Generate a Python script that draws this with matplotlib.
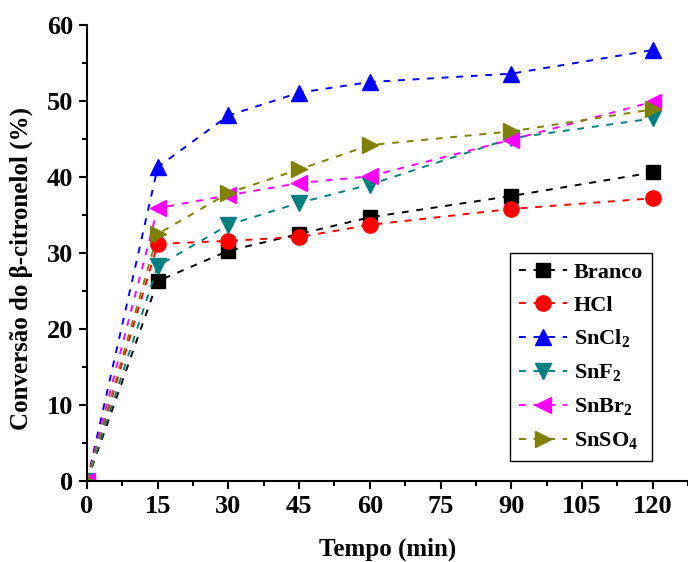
import matplotlib
matplotlib.use("Agg")
import matplotlib.pyplot as plt
from matplotlib.ticker import MultipleLocator

plt.rcParams['font.family'] = ['Liberation Serif', 'DejaVu Serif']
plt.rcParams['font.weight'] = 'bold'
plt.rcParams['mathtext.fontset'] = 'custom'
plt.rcParams['mathtext.rm'] = 'Liberation Serif:bold'
plt.rcParams['mathtext.bf'] = 'Liberation Serif:bold'

# tempo de reação (min)
tempo = [0, 15, 30, 45, 60, 90, 120]

# conversão (%) para cada catalisador
branco = [0, 26.3, 30.3, 32.5, 34.7, 37.5, 40.6]
hcl = [0, 31.2, 31.6, 32.1, 33.7, 35.8, 37.2]
sncl2 = [0, 41.3, 48.1, 51.1, 52.5, 53.6, 56.7]
snf2 = [0, 28.3, 33.7, 36.6, 39.0, 45.1, 47.7]
snbr2 = [0, 35.9, 37.6, 39.2, 40.1, 44.9, 49.9]
snso4 = [0, 32.5, 37.9, 41.0, 44.2, 46.0, 48.9]

series = [
    (branco, 'Branco', 'black', 's', 10),
    (hcl, 'HCl', 'red', 'o', 11),
    (sncl2, r'SnCl$_{\mathbf{2}}$', 'blue', '^', 12),
    (snf2, r'SnF$_{\mathbf{2}}$', '#008080', 'v', 12),
    (snbr2, r'SnBr$_{\mathbf{2}}$', 'magenta', '<', 12),
    (snso4, r'SnSO$_{\mathbf{4}}$', '#808000', '>', 12),
]

fig = plt.figure(figsize=(6.88, 5.62), dpi=100)
ax = fig.add_axes([0.1265, 0.1441, 0.8735, 0.8114])

for y, lab, c, m, ms in series:
    ax.plot(tempo, y, color=c, marker=m, markersize=ms, linestyle='--',
            dashes=(3.5, 4), linewidth=1.4, label=lab)

ax.set_xlim(0, 127.5)
ax.set_ylim(0, 60)
ax.xaxis.set_major_locator(MultipleLocator(15))
ax.xaxis.set_minor_locator(MultipleLocator(7.5))
ax.yaxis.set_major_locator(MultipleLocator(10))
ax.yaxis.set_minor_locator(MultipleLocator(5))

ax.spines['top'].set_visible(False)
ax.spines['right'].set_visible(False)
for s in ['left', 'bottom']:
    ax.spines[s].set_linewidth(1.5)

ax.tick_params(which='major', direction='out', length=6, width=1.5,
               labelsize=19, pad=4)
ax.tick_params(which='minor', direction='out', length=3.5, width=1.5)

ax.set_xlabel('Tempo (min)', fontsize=18, fontweight='bold', labelpad=14)
ax.set_ylabel('Conversão do β-citronelol (%)', fontsize=18,
              fontweight='bold')
ax.yaxis.set_label_coords(-0.09, 0.465)

leg = ax.legend(loc='lower right', bbox_to_anchor=(0.948, 0.18),
                bbox_transform=fig.transFigure, fontsize=16,
                handlelength=2.2, handletextpad=0.3, labelspacing=0.55,
                borderpad=0.4, borderaxespad=0, fancybox=False,
                framealpha=1)
leg.get_frame().set_edgecolor('black')
leg.get_frame().set_linewidth(1.0)

fig.savefig('out.png', dpi=100)
